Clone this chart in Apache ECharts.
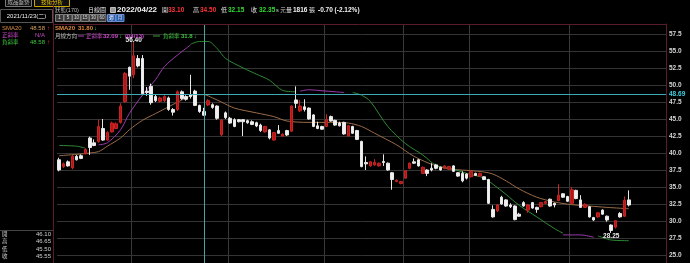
<!DOCTYPE html>
<html><head><meta charset="utf-8">
<style>html,body{margin:0;padding:0;background:#000;}#c{width:690px;height:263px;}</style>
<script src="https://cdn.jsdelivr.net/npm/echarts@6/dist/echarts.min.js"></script>
</head><body><div id="c"></div><script>
// trading days per month (category axis)
const tradeMonths = [
 ['2021/10', [6,7,8,12,13,14,15,18,19,20,21,22,25,26,27,28,29]],
 ['2021/11', [1,2,3,4,5,8,9,10,11,12,15,16,17,18,19,22,23,24,25,26,29,30]],
 ['2021/12', [1,2,3,6,7,8,9,10,13,14,15,16,17,20,21,22,23,24,27,28,29,30]],
 ['2022/01', [3,4,5,6,7,10,11,12,13,14,17,18,19,20,21,24,25,26]],
 ['2022/02', [7,8,9,10,11,14,15,16,17,18,21,22,23,24,25]],
 ['2022/03', [1,2,3,4,7,8,9,10,11,14,15,16,17,18,21,22,23,24,25,28,29,30,31]],
 ['2022/04', [1,6,7,8,11,12,13,14,15,18,19,20,21,22]]
];
const padSlots = 8;
const yTicks = [25.0,27.5,30.0,32.5,35.0,37.5,40.0,42.5,45.0,47.5,50.0,52.5,55.0,57.5];
const yMin = 23.82, yMax = 58.97;

const opens = [39.0,38.0,38.7,37.8,39.5,39.6,39.9,42.2,41.5,41.7,43.6,41.9,43.1,43.6,44.5,47.55,52.6,51.5,53.9,53.9,
 49.1,49.8,48.3,47.6,47.7,48.1,46.4,46.4,49.0,48.3,48.6,49.1,47.0,46.10,47.06,47.1,46.9,42.7,45.9,45.1,
 44.9,44.9,44.9,44.75,44.6,44.45,44.1,43.1,43.4,41.9,43.3,42.5,43.3,43.2,47.8,46.2,46.8,46.6,45.6,44.0,
 43.9,43.9,45.35,44.8,44.4,44.5,42.5,43.9,43.3,41.7,38.6,38.1,38.25,38.1,38.75,38.5,37.1,35.8,35.5,36.3,
 37.75,38.7,39.0,37.0,37.5,37.75,38.25,37.9,37.75,37.6,38.1,37.1,37.0,36.9,36.5,37.0,36.6,36.5,36.1,31.7,
 31.5,33.5,33.1,32.35,32.2,31.0,32.7,31.6,32.7,32.0,32.1,32.6,33.2,32.6,33.0,34.0,33.6,32.6,34.5,33.1,
 32.0,32.1,30.5,30.6,31.6,30.7,29.4,29.1,31.1,30.7,33.10];
const closes = [37.5,38.4,38.1,39.5,39.0,39.2,40.5,40.8,41.1,43.9,41.9,43.0,44.4,44.3,46.9,51.7,51.3,54.3,52.8,48.7,
 48.9,47.4,47.7,48.1,48.3,46.4,46.0,49.0,48.0,47.9,48.3,47.0,46.1,45.55,47.7,46.7,45.1,44.8,45.2,44.4,
 43.9,44.6,44.6,44.45,44.2,43.97,43.3,43.9,42.2,43.0,42.9,42.75,42.65,46.9,47.3,46.9,46.4,45.0,43.9,43.6,
 43.5,44.9,44.7,44.1,44.0,42.8,44.0,42.9,42.0,38.0,38.4,38.7,38.6,38.5,38.6,37.5,36.1,36.0,35.8,37.4,
 38.5,38.5,38.1,37.9,37.0,37.5,37.75,37.5,38.1,38.0,37.3,36.6,35.9,36.3,37.25,36.7,37.0,36.1,32.6,30.6,
 32.35,32.5,32.2,32.1,30.2,30.7,32.2,32.35,31.9,31.7,32.7,32.85,32.2,32.35,33.8,33.5,32.9,34.6,33.3,32.0,
 32.45,30.6,30.15,31.2,31.0,30.15,28.6,30.05,30.6,33.05,32.35];
const lows = [37.3,37.8,38.0,37.6,38.9,39.1,39.8,39.7,41.0,41.5,41.8,41.8,43.0,43.5,44.3,47.4,49.3,51.0,52.6,48.5,
 48.4,47.1,47.5,47.4,47.5,46.2,45.5,46.2,47.8,47.7,48.0,46.9,45.9,45.50,46.9,46.5,44.9,42.5,45.0,44.3,
 43.8,44.5,42.5,44.3,44.1,43.8,43.1,43.0,42.0,41.8,42.8,42.4,42.5,43.1,46.6,46.0,46.1,44.9,43.8,43.5,
 43.4,43.8,44.6,44.0,43.9,42.7,42.4,42.8,41.9,37.9,37.5,38.0,38.1,38.0,38.1,37.4,34.6,35.7,35.4,36.2,
 37.6,38.4,38.0,36.9,36.6,37.3,37.6,37.4,37.6,37.5,37.2,36.5,35.7,36.1,36.4,36.6,36.5,36.0,32.5,30.5,
 31.3,32.4,32.1,31.9,30.1,30.6,32.1,31.2,31.8,31.2,32.0,32.5,32.1,32.0,32.9,33.4,32.8,32.5,33.2,31.9,
 31.9,30.5,30.0,30.5,30.9,29.9,28.25,28.9,30.5,30.6,32.15];
const highs = [39.3,38.6,38.9,39.7,39.7,39.8,40.7,42.4,42.0,44.9,45.0,43.2,44.6,44.5,47.3,51.9,52.7,56.4,54.4,54.4,
 49.7,50.2,48.6,48.3,48.5,48.3,46.6,49.2,49.2,48.5,51.5,49.3,47.1,46.65,47.9,47.3,47.0,45.0,46.1,45.3,
 45.1,45.0,45.0,44.9,44.8,44.6,44.3,44.0,43.5,43.1,44.1,42.9,43.4,47.0,49.8,47.8,47.9,46.7,45.7,44.6,
 44.0,45.7,45.5,44.9,44.6,44.6,44.1,44.0,43.4,41.8,39.5,38.8,39.1,38.6,39.8,38.6,37.2,36.1,35.9,37.5,
 38.6,39.2,39.1,38.0,37.6,38.5,38.4,38.0,38.2,38.1,38.2,37.2,37.3,37.0,37.5,37.1,37.1,36.6,36.2,32.3,
 32.5,33.7,33.2,32.6,32.3,31.2,32.9,32.5,32.8,32.1,32.8,32.9,33.3,32.7,35.4,34.1,33.7,35.0,34.6,33.8,
 32.6,32.2,30.6,31.3,31.7,30.8,29.5,30.1,31.3,33.6,34.50];

// [trading-day index, value]
const sma20Pts = [[0,39.6],[4,39.8],[7,40.0],[9,40.2],[11,41.0],[14,42.2],[16,43.4],[19,44.8],[22,45.8],[25,46.8],
 [28,47.8],[31,48.55],[33,48.58],[35,48.1],[37,47.5],[40,46.6],[45,45.9],[49,45.35],[52,44.7],[57,44.5],[62,44.5],
 [66,44.4],[69,43.9],[72,42.9],[77,41.2],[81,39.5],[86,38.1],[90,37.6],[94,37.4],[97,37.2],[99,36.9],[102,35.9],
 [105,34.7],[109,33.5],[113,32.8],[117,32.4],[121,32.2],[125,32.0],[130,31.8]];
const posSlopeSegs = [
 [[9,41.2],[11,41.5],[14,43.4],[16,45.8],[19,48.5],[22,50.8],[24,52.7],[27,54.4],[30,55.9]],
 [[55,49.1],[57,49.3],[60,49.15],[63,49.0],[65,48.9]],
 [[115,27.95],[119,27.95],[122,27.6]]
];
const negSlopeSegs = [
 [[0,41.1],[4,41.0],[6,40.7]],
 [[30,56.0],[32,56.4],[34,56.4],[36,55.4],[38,53.9],[42,52.5],[45,51.6],[48,50.7],[51,49.2],[54,49.0]],
 [[67,48.9],[69,48.5],[71,47.6],[75,43.9],[79,41.4],[83,39.7],[86,38.2],[90,37.6],[93,37.0],[97,36.3],[99,35.4],
  [102,33.9],[105,32.3],[109,30.6],[113,28.9],[115,28.2]],
 [[123,27.8],[126,27.2],[130,27.1]]
];
const crossIdx = 33, crossPrice = 48.69;
const highMark = [17, 56.40], lowMark = [126, 28.25];

const cats = [], monthStart = new Set();
tradeMonths.forEach(([m, ds]) => { ds.forEach((d, i) => { if (i === 0 && cats.length) monthStart.add(cats.length); cats.push(m + '/' + String(d).padStart(2,'0')); }); });
for (let i = 0; i < padSlots; i++) cats.push('pad' + i);
const candles = opens.map((o, i) => [o, closes[i], lows[i], highs[i]]);

const FF = '"Liberation Sans","Noto Sans CJK TC",sans-serif';
const F = (s, b) => (b ? 'bold ' : '') + s + 'px ' + FF;
const G = [];
function txt(x, y, text, fill, size, bold, align) { G.push({type:'text', z:60, style:{x, y, text, fill, font:F(size,bold), align:align||'left', verticalAlign:'middle'}}); }
function ln(x1, y1, x2, y2, stroke) { G.push({type:'line', z:58, shape:{x1,y1,x2,y2}, style:{stroke, lineWidth:1}}); }
function rc(x, y, w, h, fill, stroke, z) { G.push({type:'rect', z:z||55, shape:{x,y,width:w,height:h}, style:{fill, stroke, lineWidth:1}}); }

ln(53.5, 0, 53.5, 263, '#5a1c2a');
ln(53, 24.5, 666, 24.5, '#5a1c2a');
// left panel
rc(5.5, -3.5, 26, 10, '#111', '#777');
txt(18.5, 2.5, '成品盤勢', '#bbbbbb', 5.5, false, 'center');
rc(34.5, -3.5, 35, 10, '#111', '#c8a400');
txt(52, 2.5, '技術分析', '#e8c400', 5.5, false, 'center');
rc(0.5, 9.5, 52, 13, '#000', '#555');
txt(26.5, 16, '2021/11/23(二)', '#eeeeee', 6, false, 'center');
txt(2, 28.5, 'SMA20', '#d88a40', 6);
txt(45, 28.5, '48.58', '#d8a060', 6, false, 'right');
txt(47, 28.5, '↑', '#ff3030', 6);
txt(2, 35.5, '正斜率', '#c848c8', 5.5);
txt(45, 35.5, 'N/A', '#c848c8', 6, false, 'right');
txt(2, 42.5, '負斜率', '#3fc43f', 5.5);
txt(45, 42.5, '48.58', '#3fc43f', 6, false, 'right');
txt(47, 42.5, '↑', '#ff3030', 6);
ln(0, 230.5, 53, 230.5, '#444');
[['開','46.10',234],['高','46.65',241.5],['低','45.50',249],['收','45.55',256.5]].forEach(r => {
  txt(2, r[2], r[0], '#cfcfcf', 5.5); txt(51, r[2], r[1], '#cfcfcf', 6, false, 'right');
});
// header
txt(55, 10, '狀態(170)', '#bdbdbd', 5.5);
txt(88, 10, '日線圖', '#e0e0e0', 6);
rc(110.5, 7.5, 5, 5, '#999', '#bbb', 56);
txt(117, 10, '2022/04/22', '#f4f4f4', 8, true);
txt(162, 10, '開', '#e0e0e0', 6); txt(168, 10, '33.10', '#ff3434', 6.5, true);
txt(193, 10, '高', '#e0e0e0', 6); txt(200, 10, '34.50', '#ff3434', 6.5, true);
txt(221, 10, '低', '#e0e0e0', 6); txt(228, 10, '32.15', '#33dd33', 6.5, true);
txt(251, 10, '收', '#e0e0e0', 6); txt(259, 10, '32.35', '#33dd33', 6.5, true);
txt(276, 10, 's 元', '#cfcfcf', 5.5);
txt(286, 10, '量', '#e0e0e0', 6); txt(293, 10, '1816', '#f2f2f2', 6.5, true); txt(309, 10, '張', '#e0e0e0', 6);
txt(318, 10, '-0.70 (-2.12%)', '#f2f2f2', 6.5, true);
// toolbar
['1','5','10','15','30','60'].forEach((t, i) => { rc(55.5 + i*8.5, 14.5, 8, 7, '#3a3a3a', '#808080', 56); txt(59.5 + i*8.5, 18, t, '#dddddd', 4.5, false, 'center'); });
['週','月'].forEach((t, i) => { rc(107.5 + i*8.5, 14.5, 8, 7, '#2a5aa8', '#6b8fd0', 56); txt(111.5 + i*8.5, 18, t, '#ffffff', 4.5, false, 'center'); });
// indicator rows
txt(55, 28.5, 'SMA20', '#e08a3c', 6, true);
txt(78, 28.5, '31.80', '#e08a3c', 6, true);
txt(94, 28.5, '↓', '#33dd33', 6, true);
txt(55, 36, '月線方向', '#bdbdbd', 5.5);
ln(78, 36, 84, 36, '#b040c0');
txt(86, 36, '正斜率', '#c848c8', 5.5);
txt(103, 36, '32.09', '#c848c8', 6, true);
txt(119, 36, '↓', '#33dd33', 6, true);
txt(125, 36, '(04/13)', '#c848c8', 6, true);
ln(153, 36, 160, 36, '#3a9a3a');
txt(163, 36, '負斜率', '#3fc43f', 5.5);
txt(181, 36, '31.8', '#3fc43f', 6, true);
txt(194, 36, '↓', '#3fc43f', 6, true);

const series = [];
series.push({type:'line', name:'SMA20', data:sma20Pts, symbol:'none', smooth:0.3, z:1, silent:true,
  lineStyle:{color:'#9a6b48', width:1},
  markLine:{symbol:['none','none'], silent:true, animation:false, z:0,
    lineStyle:{color:'#343434', width:1, type:'solid'},
    label:{show:true, position:'end', distance:3, color:'#d4d4d4', fontSize:6.5, fontWeight:'bold', fontFamily:FF,
      formatter:p => p.value.toFixed(1)},
    data: yTicks.map(v => ({yAxis:v}))}});
posSlopeSegs.forEach(seg => series.push({type:'line', data:seg, symbol:'none', smooth:0.3, z:1, silent:true, lineStyle:{color:'#9c3cb0', width:1}}));
negSlopeSegs.forEach(seg => series.push({type:'line', data:seg, symbol:'none', smooth:0.3, z:1, silent:true, lineStyle:{color:'#2f8a35', width:1}}));
series.push({type:'candlestick', data:candles, barWidth:3, z:3,
  itemStyle:{color:'#ad1818', color0:'#f0f0f0', borderColor:'#cc2222', borderColor0:'#e8e8e8', borderWidth:1},
  markLine:{symbol:['none','none'], silent:true, animation:false,
    data:[
      {xAxis: cats[crossIdx], lineStyle:{color:'#4aa3a3', width:1, type:'solid'}, label:{show:false}},
      {yAxis: crossPrice, lineStyle:{color:'#3fa9b5', width:1, type:'solid'},
       label:{show:true, position:'end', distance:3, formatter: crossPrice.toFixed(2), color:'#3fd0e0', fontSize:6.5, fontWeight:'bold', fontFamily:FF}}
    ]},
  markPoint:{symbol:'circle', symbolSize:1, silent:true, animation:false, itemStyle:{color:'rgba(0,0,0,0)'},
    data:[
      {name: highMark[1].toFixed(2), coord:[cats[highMark[0]], highMark[1]], label:{position:'top', distance:0, offset:[0,2]}},
      {name: lowMark[1].toFixed(2), coord:[cats[lowMark[0]], lowMark[1]], label:{position:'bottom', distance:0}}
    ],
    label:{show:true, formatter:'{b}', color:'#eeeeee', fontSize:6.5, fontWeight:'bold', fontFamily:FF}}
});

const chart = echarts.init(document.getElementById('c'), null, {renderer:'canvas'});
chart.setOption({
  backgroundColor:'#000',
  animation:false,
  grid:{left:57, right:24, top:24, bottom:0, containLabel:false},
  xAxis:{type:'category', data:cats, boundaryGap:true,
    axisLine:{show:false}, axisTick:{show:false}, axisLabel:{show:false},
    splitLine:{show:true, interval:(idx) => monthStart.has(idx), lineStyle:{color:'#3a3a3a', width:1}}},
  yAxis:{type:'value', position:'right', min:yMin, max:yMax, scale:false,
    axisLine:{show:true, lineStyle:{color:'#5a1c2a'}}, axisTick:{show:false},
    axisLabel:{show:false}, splitLine:{show:false}},
  series,
  graphic:{elements:G}
});
</script></body></html>
